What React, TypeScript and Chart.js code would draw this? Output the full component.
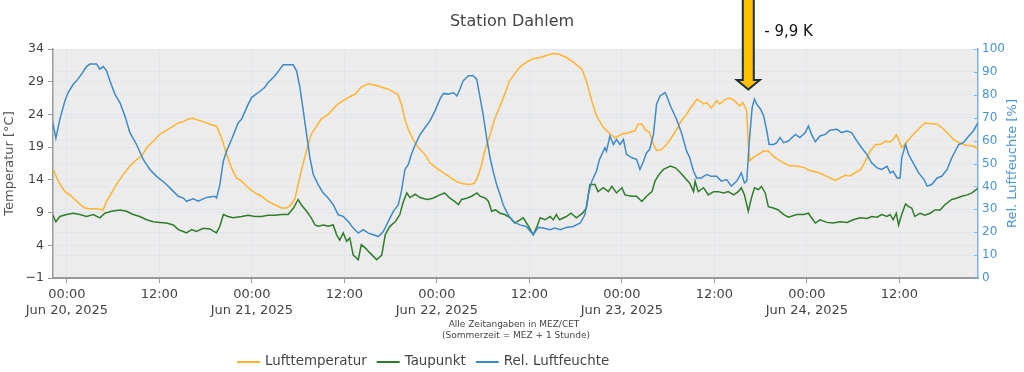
import React, { useEffect, useRef } from "react";
import { Chart, registerables } from "chart.js";

Chart.register(...registerables);

// Hours relative to Jun 20, 2025 00:00 (MEZ)
const xTickHours = [0, 12, 24, 36, 48, 60, 72, 84, 96, 108];
const xTickLabels: (string | string[])[] = [
  ["00:00", "Jun 20, 2025"], "12:00",
  ["00:00", "Jun 21, 2025"], "12:00",
  ["00:00", "Jun 22, 2025"], "12:00",
  ["00:00", "Jun 23, 2025"], "12:00",
  ["00:00", "Jun 24, 2025"], "12:00",
];
const tempTicks = [-1, 4, 9, 14, 19, 24, 29, 34];
const humTicks = [0, 10, 20, 30, 40, 50, 60, 70, 80, 90, 100];

const titleText = "Station Dahlem";
const leftAxisTitle = "Temperatur [°C]";
const rightAxisTitle = "Rel. Luftfeuchte [%]";
const noteLines = ["Alle Zeitangaben in MEZ/CET", "(Sommerzeit = MEZ + 1 Stunde)"];
const annotationText = "- 9,9 K";
const annotationHour = 88.4;
const annotationTipValue = 27.8;

const seriesNames = ["Lufttemperatur", "Taupunkt", "Rel. Luftfeuchte"];
const seriesColors = ["#ffb330", "#2f7d2a", "#3f8bc8"];

const lufttemperatur: [number, number][] = [
  [-1.86, 15.6], [-1.69, 15.4], [-1.13, 13.8], [-0.26, 12.2], [0.39, 11.7], [1.04, 11.0], [1.69, 10.3], [2.34, 9.7],
  [2.98, 9.6], [3.85, 9.6], [4.71, 9.4], [5.15, 10.7], [5.8, 12.0], [6.44, 13.3], [7.31, 14.8], [8.17, 16.1],
  [9.04, 17.1], [9.69, 17.6], [10.34, 18.9], [11.2, 19.9], [12.07, 21.0], [12.93, 21.6], [13.8, 22.2], [14.45, 22.7],
  [15.1, 22.9], [15.74, 23.3], [16.39, 23.4], [17.04, 23.1], [17.7, 22.9], [18.55, 22.5], [19.42, 22.2], [20.07, 20.4],
  [20.72, 17.9], [21.37, 15.8], [22.0, 14.3], [22.66, 13.8], [23.53, 12.8], [24.4, 12.0], [25.26, 11.5], [26.1, 10.7],
  [27.0, 10.2], [27.85, 9.7], [28.5, 9.7], [29.1, 10.2], [29.6, 11.2], [30.0, 13.3], [30.4, 15.3], [30.85, 17.4],
  [31.3, 19.4], [31.7, 21.0], [32.4, 22.2], [33.0, 23.3], [33.9, 24.0], [34.5, 24.8], [35.2, 25.6], [35.85, 26.1],
  [36.7, 26.7], [37.4, 27.1], [38.2, 28.2], [39.1, 28.7], [39.9, 28.5], [40.8, 28.2], [41.6, 27.9], [42.9, 27.1],
  [43.4, 25.6], [43.8, 23.5], [44.3, 21.7], [44.9, 20.2], [45.6, 18.9], [46.45, 17.9], [47.1, 16.6], [47.97, 15.8],
  [48.8, 15.1], [49.7, 14.4], [50.6, 13.7], [51.4, 13.4], [52.3, 13.3], [52.9, 13.5], [53.4, 14.8], [53.8, 16.3],
  [54.2, 18.4], [54.9, 20.9], [55.5, 23.3], [56.2, 25.3], [56.8, 27.1], [57.4, 29.1], [58.1, 30.2], [58.75, 31.2],
  [59.6, 32.0], [60.5, 32.5], [61.4, 32.7], [62.2, 33.0], [63.1, 33.3], [63.9, 33.2], [64.8, 32.7], [65.7, 32.0],
  [66.8, 30.9], [67.4, 29.1], [68.1, 26.1], [68.7, 23.8], [69.6, 22.0], [70.5, 21.0], [71.1, 20.4], [72.0, 21.0],
  [72.8, 21.2], [73.7, 21.5], [74.1, 22.5], [74.6, 22.5], [75.0, 21.7], [75.6, 21.2], [76.1, 19.4], [76.5, 18.5],
  [77.1, 18.6], [77.8, 19.4], [78.4, 20.4], [79.1, 21.7], [79.7, 23.0], [80.4, 24.0], [80.8, 24.8], [81.3, 25.6],
  [81.7, 26.3], [82.1, 26.1], [82.6, 25.6], [83.0, 25.8], [83.6, 25.0], [84.3, 26.1], [84.7, 25.6], [85.4, 26.3],
  [86.0, 26.5], [86.6, 26.1], [87.3, 25.3], [87.7, 25.8], [88.2, 24.5], [88.4, 19.4], [88.6, 16.9], [89.0, 17.4],
  [89.7, 17.9], [90.4, 18.4], [91.0, 18.4], [91.65, 17.6], [92.3, 17.1], [93.0, 16.6], [93.6, 16.2], [94.7, 16.1],
  [95.6, 15.9], [96.4, 15.4], [97.3, 15.2], [98.1, 14.8], [99.0, 14.3], [99.7, 13.9], [100.3, 14.3], [101.0, 14.7],
  [101.6, 14.6], [102.3, 15.1], [103.0, 15.6], [103.6, 16.9], [104.2, 18.4], [104.9, 19.4], [105.5, 19.4], [106.2, 19.9],
  [106.8, 19.8], [107.2, 20.2], [107.6, 20.9], [107.9, 20.2], [108.3, 18.9], [108.7, 19.4], [109.4, 20.4], [110.0, 21.2],
  [110.7, 22.0], [111.3, 22.7], [112.0, 22.6], [112.9, 22.5], [113.5, 22.0], [114.2, 21.2], [115.0, 20.2], [115.7, 19.7],
  [116.6, 19.3], [117.5, 19.2], [118.2, 18.8],
];

const taupunkt: [number, number][] = [
  [-1.86, 8.7], [-1.43, 7.6], [-0.91, 8.4], [-0.04, 8.7], [0.82, 8.9], [1.69, 8.7], [2.55, 8.4], [3.42, 8.7],
  [4.28, 8.2], [4.93, 8.9], [5.8, 9.2], [6.88, 9.4], [7.74, 9.2], [8.6, 8.7], [9.47, 8.4], [10.34, 7.9],
  [11.2, 7.6], [12.07, 7.5], [12.93, 7.4], [13.8, 7.1], [14.45, 6.4], [15.1, 6.1], [15.5, 5.9], [16.2, 6.4],
  [16.8, 6.1], [17.7, 6.6], [18.55, 6.5], [19.4, 5.9], [19.85, 6.9], [20.3, 8.7], [20.9, 8.4], [21.6, 8.2],
  [22.66, 8.4], [23.5, 8.6], [24.4, 8.4], [25.26, 8.4], [26.1, 8.6], [27.0, 8.6], [27.85, 8.7], [28.7, 8.7],
  [29.4, 9.7], [30.0, 11.0], [30.4, 10.2], [31.1, 9.2], [31.7, 8.2], [32.2, 7.1], [32.6, 6.9], [33.3, 7.1],
  [33.9, 6.9], [34.55, 7.1], [35.0, 5.6], [35.4, 4.8], [35.85, 5.9], [36.3, 4.6], [36.7, 5.1], [37.15, 2.5],
  [37.8, 1.8], [38.2, 4.1], [38.7, 3.6], [39.1, 3.1], [39.6, 2.5], [40.2, 1.8], [40.85, 2.5], [41.3, 5.6],
  [41.9, 6.9], [42.6, 7.6], [43.2, 8.7], [43.6, 10.5], [44.1, 12.0], [44.5, 11.3], [45.2, 11.8], [45.8, 11.3],
  [46.7, 11.0], [47.5, 11.2], [48.4, 11.7], [49.0, 12.0], [49.7, 11.2], [50.3, 10.7], [50.8, 10.2], [51.2, 11.0],
  [51.86, 11.2], [52.5, 11.5], [53.2, 12.0], [53.6, 11.5], [54.3, 11.2], [54.7, 10.7], [55.1, 9.2], [55.6, 9.4],
  [56.2, 8.9], [56.8, 8.7], [57.5, 8.2], [58.1, 7.4], [58.8, 7.9], [59.2, 8.2], [59.9, 6.9], [60.5, 5.6],
  [61.0, 6.9], [61.4, 8.2], [62.0, 7.9], [62.7, 8.4], [63.1, 7.9], [63.5, 8.7], [63.9, 7.9], [64.8, 8.4],
  [65.4, 8.9], [66.1, 8.2], [66.9, 8.9], [67.4, 9.7], [67.85, 13.3], [68.5, 13.3], [68.9, 12.2], [69.6, 12.8],
  [70.25, 12.2], [70.7, 13.0], [71.3, 12.0], [72.0, 12.8], [72.4, 11.7], [73.3, 11.5], [73.9, 11.5], [74.6, 10.7],
  [75.2, 11.5], [75.9, 12.2], [76.3, 13.8], [76.8, 14.8], [77.4, 15.6], [78.3, 16.1], [79.0, 15.8], [79.6, 15.1],
  [80.2, 14.3], [80.8, 13.5], [81.3, 12.2], [81.5, 13.8], [81.9, 12.2], [82.6, 12.8], [83.2, 11.7], [83.9, 12.2],
  [84.5, 12.2], [85.2, 12.0], [85.8, 12.2], [86.5, 11.7], [87.1, 12.2], [87.5, 12.8], [87.9, 11.7], [88.4, 9.2],
  [88.8, 11.2], [89.2, 12.8], [89.7, 12.5], [90.1, 13.0], [90.6, 12.0], [91.0, 9.9], [91.65, 9.7], [92.3, 9.4],
  [93.0, 8.7], [93.6, 8.3], [94.7, 8.7], [95.6, 8.7], [96.2, 8.9], [96.6, 8.2], [97.1, 7.4], [97.7, 7.9],
  [98.6, 7.5], [99.4, 7.4], [100.3, 7.6], [101.2, 7.5], [102.0, 7.9], [102.9, 8.2], [103.8, 8.1], [104.4, 8.4],
  [105.1, 8.3], [105.7, 8.7], [106.4, 8.4], [106.8, 8.7], [107.2, 7.9], [107.6, 8.9], [107.9, 7.1], [108.3, 8.7],
  [108.8, 10.3], [109.2, 9.9], [109.6, 9.7], [110.0, 8.4], [110.7, 8.9], [111.3, 8.6], [112.0, 8.9], [112.6, 9.4],
  [113.3, 9.4], [113.9, 10.2], [114.8, 11.0], [115.4, 11.2], [116.1, 11.5], [116.8, 11.7], [117.4, 12.0], [118.2, 12.7],
];

const luftfeuchte: [number, number][] = [
  [-1.86, 68.6], [-1.43, 61.0], [-0.91, 69.3], [-0.26, 77.3], [0.17, 81.0], [0.82, 84.6], [1.25, 86.1], [1.9, 89.0],
  [2.55, 92.3], [2.98, 93.4], [3.85, 93.4], [4.28, 91.2], [4.71, 92.3], [5.15, 90.5], [5.58, 86.1], [6.23, 80.3],
  [6.88, 76.6], [7.53, 70.8], [8.17, 63.5], [9.04, 58.3], [9.9, 51.8], [10.77, 47.4], [11.63, 44.4], [12.72, 41.5],
  [13.58, 38.6], [14.45, 35.7], [15.1, 34.9], [15.53, 33.5], [16.39, 34.6], [17.04, 33.5], [18.12, 35.2], [19.2, 35.7],
  [19.42, 34.9], [19.85, 40.8], [20.29, 51.0], [20.72, 55.4], [21.37, 60.5], [22.23, 67.8], [22.66, 69.3], [23.53, 75.9],
  [23.96, 78.8], [24.83, 81.0], [25.66, 83.2], [26.12, 85.4], [26.99, 88.3], [27.64, 91.2], [28.06, 93.1], [29.36, 93.1],
  [29.8, 90.5], [30.23, 83.2], [30.67, 73.0], [31.1, 62.7], [31.53, 52.5], [31.97, 45.2], [32.6, 40.8], [33.26, 37.1],
  [33.9, 34.9], [34.55, 32.0], [35.2, 27.6], [35.85, 26.9], [36.5, 24.7], [37.15, 21.8], [37.8, 19.6], [38.45, 21.1],
  [39.1, 19.6], [39.75, 18.9], [40.4, 18.1], [41.05, 20.3], [41.7, 24.7], [42.35, 29.1], [43.0, 32.0], [43.4, 37.9],
  [43.86, 47.4], [44.3, 49.6], [44.7, 54.0], [45.2, 58.3], [45.8, 62.5], [46.45, 65.6], [47.1, 68.6], [47.76, 73.0],
  [48.4, 78.1], [48.85, 80.6], [49.5, 80.3], [50.15, 81.0], [50.6, 79.5], [51.0, 82.5], [51.4, 86.1], [52.1, 88.3],
  [52.7, 88.3], [53.17, 86.8], [53.6, 78.8], [54.0, 71.5], [54.45, 61.3], [54.9, 52.5], [55.3, 46.6], [55.75, 40.8],
  [56.2, 36.4], [56.6, 32.0], [57.25, 27.6], [57.9, 24.7], [58.75, 23.2], [59.6, 22.5], [60.5, 18.9], [61.15, 22.1],
  [61.8, 21.8], [62.7, 21.1], [63.3, 21.8], [64.0, 21.1], [64.8, 22.1], [65.7, 22.5], [66.6, 24.0], [67.2, 27.6],
  [67.65, 36.4], [68.1, 42.3], [68.7, 46.6], [69.1, 51.8], [69.8, 56.9], [70.0, 55.4], [70.45, 62.0], [70.9, 58.3],
  [71.3, 60.5], [71.75, 58.3], [72.2, 60.5], [72.6, 54.0], [73.3, 52.5], [73.9, 51.8], [74.35, 47.4], [74.8, 51.0],
  [75.2, 54.7], [75.6, 56.1], [76.1, 62.7], [76.5, 75.9], [76.95, 79.5], [77.6, 81.0], [77.9, 78.8], [78.3, 75.1],
  [79.1, 69.3], [79.8, 62.7], [80.4, 55.4], [80.8, 52.5], [81.3, 46.6], [81.7, 43.7], [82.3, 43.7], [83.0, 45.2],
  [83.6, 44.4], [84.3, 44.4], [84.9, 42.3], [85.6, 43.0], [86.2, 40.1], [86.9, 42.3], [87.5, 45.9], [87.9, 41.5],
  [88.2, 42.3], [88.5, 58.3], [88.9, 74.4], [89.2, 78.1], [89.5, 75.9], [90.0, 73.7], [90.4, 70.8], [90.8, 64.2],
  [91.1, 58.3], [91.7, 58.3], [92.1, 59.1], [92.5, 61.3], [93.0, 59.1], [93.6, 59.8], [94.5, 62.7], [95.1, 61.3],
  [95.8, 63.5], [96.2, 66.4], [96.6, 62.7], [97.1, 59.5], [97.7, 62.0], [98.4, 62.7], [99.0, 64.5], [99.9, 64.9],
  [100.5, 63.5], [101.2, 64.2], [101.8, 63.5], [102.5, 59.8], [103.1, 56.9], [103.8, 53.9], [104.4, 50.3], [105.1, 48.1],
  [105.7, 47.4], [106.4, 48.8], [106.8, 45.9], [107.2, 46.6], [107.7, 43.7], [108.1, 43.7], [108.3, 52.5], [108.8, 58.3],
  [109.2, 53.9], [109.9, 49.6], [110.5, 45.9], [111.2, 43.0], [111.6, 40.1], [112.2, 40.8], [112.9, 43.7], [113.5, 44.4],
  [114.2, 47.4], [114.8, 52.5], [115.7, 58.3], [116.3, 59.1], [117.0, 62.0], [117.6, 64.2], [118.2, 67.8],
];

const FONT = "'DejaVu Sans', Verdana, sans-serif";
const TEXT = "#444444";
const AXIS_BLUE_TEXT = "#4b93cf";
const AXIS_BLUE_LINE = "#7fb2de";
const GRID = "#e1e6ec";
const PLOT_BG = "#ececec";

const decorPlugin = {
  id: "decor",
  beforeDraw(chart: any) {
    const { ctx, chartArea } = chart;
    ctx.save();
    ctx.fillStyle = "#ffffff";
    ctx.fillRect(0, 0, chart.width, chart.height);
    ctx.fillStyle = PLOT_BG;
    ctx.fillRect(chartArea.left, chartArea.top, chartArea.right - chartArea.left, chartArea.bottom - chartArea.top);
    ctx.restore();
  },
  afterDraw(chart: any) {
    const { ctx, chartArea } = chart;
    const midY = (chartArea.top + chartArea.bottom) / 2;
    ctx.save();
    // Title
    ctx.fillStyle = TEXT;
    ctx.font = `16px ${FONT}`;
    ctx.textAlign = "center";
    ctx.textBaseline = "middle";
    ctx.fillText(titleText, 512, 22);

    // Axis titles (reading upwards)
    ctx.save();
    ctx.translate(10, midY);
    ctx.rotate(-Math.PI / 2);
    ctx.font = `13px ${FONT}`;
    ctx.fillStyle = "#555555";
    ctx.fillText(leftAxisTitle, 0, 0);
    ctx.restore();
    ctx.save();
    ctx.translate(1013, midY);
    ctx.rotate(-Math.PI / 2);
    ctx.font = `13px ${FONT}`;
    ctx.fillStyle = AXIS_BLUE_TEXT;
    ctx.fillText(rightAxisTitle, 0, 0);
    ctx.restore();

    // Right axis inner tick marks
    const y1 = chart.scales.y1;
    ctx.strokeStyle = AXIS_BLUE_LINE;
    ctx.lineWidth = 1;
    humTicks.forEach((v) => {
      const py = Math.round(y1.getPixelForValue(v)) + 0.5;
      ctx.beginPath();
      ctx.moveTo(chartArea.right - 4, py);
      ctx.lineTo(chartArea.right, py);
      ctx.stroke();
    });

    // Note text
    ctx.fillStyle = TEXT;
    ctx.font = `9px ${FONT}`;
    ctx.fillText(noteLines[0], 514, 325);
    ctx.fillText(noteLines[1], 516, 336);

    // Legend
    ctx.font = `13.4px ${FONT}`;
    ctx.textAlign = "left";
    let lx = 237;
    const ly = 362;
    seriesNames.forEach((name, i) => {
      ctx.strokeStyle = seriesColors[i];
      ctx.lineWidth = 2;
      ctx.beginPath();
      ctx.moveTo(lx, ly);
      ctx.lineTo(lx + 23, ly);
      ctx.stroke();
      ctx.fillStyle = TEXT;
      ctx.fillText(name, lx + 28, ly);
      lx += 28 + ctx.measureText(name).width + 10;
    });

    // Annotation arrow
    const ax = chart.scales.x.getPixelForValue(annotationHour);
    const tipY = chart.scales.y.getPixelForValue(annotationTipValue);
    const shaftHalf = 5.5;
    const headHalf = 11.5;
    const headLen = 9.5;
    ctx.beginPath();
    ctx.moveTo(ax - shaftHalf, -3);
    ctx.lineTo(ax + shaftHalf, -3);
    ctx.lineTo(ax + shaftHalf, tipY - headLen);
    ctx.lineTo(ax + headHalf, tipY - headLen);
    ctx.lineTo(ax, tipY);
    ctx.lineTo(ax - headHalf, tipY - headLen);
    ctx.lineTo(ax - shaftHalf, tipY - headLen);
    ctx.closePath();
    ctx.fillStyle = "#ffc000";
    ctx.fill();
    ctx.strokeStyle = "#1d2f3b";
    ctx.lineWidth = 2;
    ctx.lineJoin = "miter";
    ctx.stroke();

    ctx.fillStyle = "#111111";
    ctx.font = `15px ${FONT}`;
    ctx.textAlign = "left";
    ctx.textBaseline = "middle";
    ctx.fillText(annotationText, ax + 16, 32);
    ctx.restore();
  },
};

export default function App() {
  const canvasRef = useRef<HTMLCanvasElement | null>(null);

  useEffect(() => {
    if (!canvasRef.current) return;
    const toPts = (arr: [number, number][]) => arr.map(([x, y]) => ({ x, y }));
    const chart = new Chart(canvasRef.current, {
      type: "line",
      data: {
        datasets: [
          {
            label: seriesNames[0],
            data: toPts(lufttemperatur),
            borderColor: seriesColors[0],
            borderWidth: 1.5,
            pointRadius: 0,
            tension: 0,
            yAxisID: "y",
            order: 3,
          },
          {
            label: seriesNames[1],
            data: toPts(taupunkt),
            borderColor: seriesColors[1],
            borderWidth: 1.5,
            pointRadius: 0,
            tension: 0,
            yAxisID: "y",
            order: 2,
          },
          {
            label: seriesNames[2],
            data: toPts(luftfeuchte),
            borderColor: seriesColors[2],
            borderWidth: 1.5,
            pointRadius: 0,
            tension: 0,
            yAxisID: "y1",
            order: 1,
          },
        ],
      },
      options: {
        animation: false,
        responsive: true,
        maintainAspectRatio: false,
        devicePixelRatio: 1,
        layout: { padding: { top: 49, left: 0, right: 0, bottom: 0 } },
        plugins: {
          legend: { display: false },
          title: { display: false },
          tooltip: { enabled: false },
        },
        scales: {
          x: {
            type: "linear",
            min: -1.8,
            max: 118.2,
            afterBuildTicks: (s: any) => {
              s.ticks = xTickHours.map((v) => ({ value: v }));
            },
            afterFit: (s: any) => {
              s.height = 94;
            },
            ticks: {
              autoSkip: false,
              maxRotation: 0,
              minRotation: 0,
              padding: 3,
              color: TEXT,
              font: { family: FONT, size: 13, lineHeight: 1.25 },
              callback: (v: any) => {
                const i = xTickHours.indexOf(Number(v));
                return i >= 0 ? xTickLabels[i] : "";
              },
            },
            grid: { color: GRID, lineWidth: 1, tickColor: "#999999", tickLength: 5 },
            border: { color: "#999999", width: 2 },
          },
          y: {
            position: "left",
            min: -1,
            max: 34,
            afterBuildTicks: (s: any) => {
              s.ticks = tempTicks.map((v) => ({ value: v }));
            },
            afterFit: (s: any) => {
              s.width = 53;
            },
            ticks: {
              padding: 4,
              color: TEXT,
              font: { family: FONT, size: 12.5 },
              callback: (v: any) => (Number(v) < 0 ? "\u2212" + Math.abs(Number(v)) : String(v)),
            },
            grid: { color: GRID, lineWidth: 1, tickColor: "#999999", tickLength: 5 },
            border: { color: "#999999", width: 1.5 },
          },
          y1: {
            position: "right",
            min: 0,
            max: 100,
            afterBuildTicks: (s: any) => {
              s.ticks = humTicks.map((v) => ({ value: v }));
            },
            afterFit: (s: any) => {
              s.width = 46;
            },
            ticks: {
              padding: 4,
              color: AXIS_BLUE_TEXT,
              font: { family: FONT, size: 12 },
            },
            grid: { color: GRID, lineWidth: 1, drawTicks: false },
            border: { color: AXIS_BLUE_LINE, width: 1.5 },
          },
        },
      },
      plugins: [decorPlugin],
    } as any);
    return () => chart.destroy();
  }, []);

  return (
    <div style={{ position: "absolute", left: 0, top: 0, width: 1024, height: 372, background: "#fff" }}>
      <canvas ref={canvasRef} />
    </div>
  );
}
